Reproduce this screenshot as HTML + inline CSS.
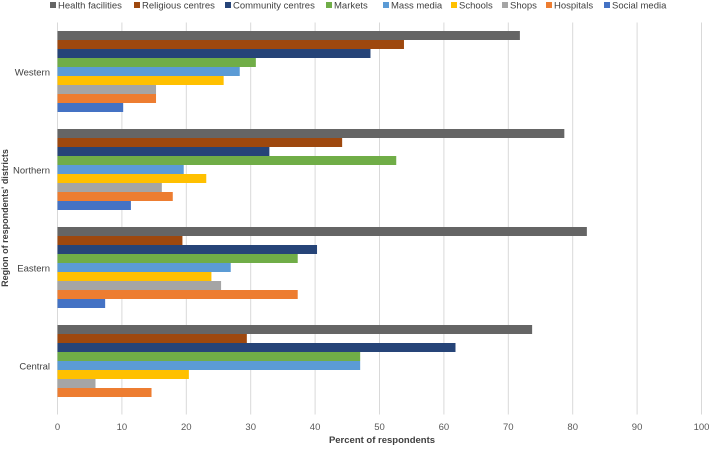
<!DOCTYPE html>
<html><head><meta charset="utf-8"><style>
body{margin:0;background:#fff;font-family:"Liberation Sans",sans-serif}
svg text{font-family:"Liberation Sans",sans-serif}
</style></head><body>
<svg id="chart" width="709" height="447" xmlns="http://www.w3.org/2000/svg"></svg>
<script>
const categories=["Western","Northern","Eastern","Central"];
const seriesNames=["Health facilities","Religious centres","Community centres","Markets","Mass media","Schools","Shops","Hospitals","Social media"];
const colors=["#656565","#9E480E","#264478","#70AD47","#5B9BD5","#FFC000","#A5A5A5","#ED7D31","#4472C4"];
const healthFacilities=[71.8,78.7,82.2,73.7];
const religiousCentres=[53.8,44.2,19.4,29.4];
const communityCentres=[48.6,32.9,40.3,61.8];
const markets=[30.8,52.6,37.3,47];
const massMedia=[28.3,19.6,26.9,47];
const schools=[25.8,23.1,23.9,20.4];
const shops=[15.3,16.2,25.4,5.9];
const hospitals=[15.3,17.9,37.3,14.6];
const socialMedia=[10.2,11.4,7.4,0];
const series=[healthFacilities,religiousCentres,communityCentres,markets,massMedia,schools,shops,hospitals,socialMedia];
const ticks=[0,10,20,30,40,50,60,70,80,90,100];
const legendX=[50,134,225,326,383,451,502,546,604];

const svg=document.getElementById('chart');
const NS="http://www.w3.org/2000/svg";
function mk(t,a,p){const e=document.createElementNS(NS,t);for(const k in a)e.setAttribute(k,a[k]);(p||svg).appendChild(e);return e;}
const x0=57.5,x1=701.5,plotTop=22.5,band=98;
const xs=v=>x0+(x1-x0)*v/100;
const barH=9;

ticks.forEach(t=>{
  const l=mk('line',{x1:xs(t),x2:xs(t),y1:plotTop,y2:plotTop+band*4,stroke:"#d9d9d9","stroke-width":1});
  
  
  const tx=mk('text',{x:xs(t),y:430,"font-size":9.5,fill:"#595959","text-anchor":"middle"});
  tx.textContent=t;
  
  
});

categories.forEach((c,ci)=>{
  const gTop=plotTop+ci*band+8.5;
  series.forEach((s,si)=>{
    const v=s[ci];
    if(v<=0)return;
    const r=mk('rect',{x:xs(0),y:gTop+si*barH,width:xs(v)-xs(0),height:barH,fill:colors[si]});
    
    
  });
  const lb=mk('text',{x:50,y:plotTop+ci*band+band/2+4,"font-size":9.5,fill:"#404040","text-anchor":"end"});
  lb.textContent=c;
  
  
});

seriesNames.forEach((n,i)=>{
  const r=mk('rect',{x:legendX[i],y:2,width:6,height:6,fill:colors[i]});
  
  
  const t=mk('text',{x:legendX[i]+8,y:8.5,"font-size":9.5,fill:"#404040"});
  t.textContent=n;
  
  
});

const xt=mk('text',{x:382,y:443,"font-size":9.5,"font-weight":"bold",fill:"#404040","text-anchor":"middle"});
xt.textContent="Percent of respondents";


const yt=mk('text',{x:0,y:0,"font-size":9,"font-weight":"bold",fill:"#404040","text-anchor":"middle",transform:"translate(8,218) rotate(-90)"});
yt.textContent="Region of respondents' districts";


</script>
</body></html>
